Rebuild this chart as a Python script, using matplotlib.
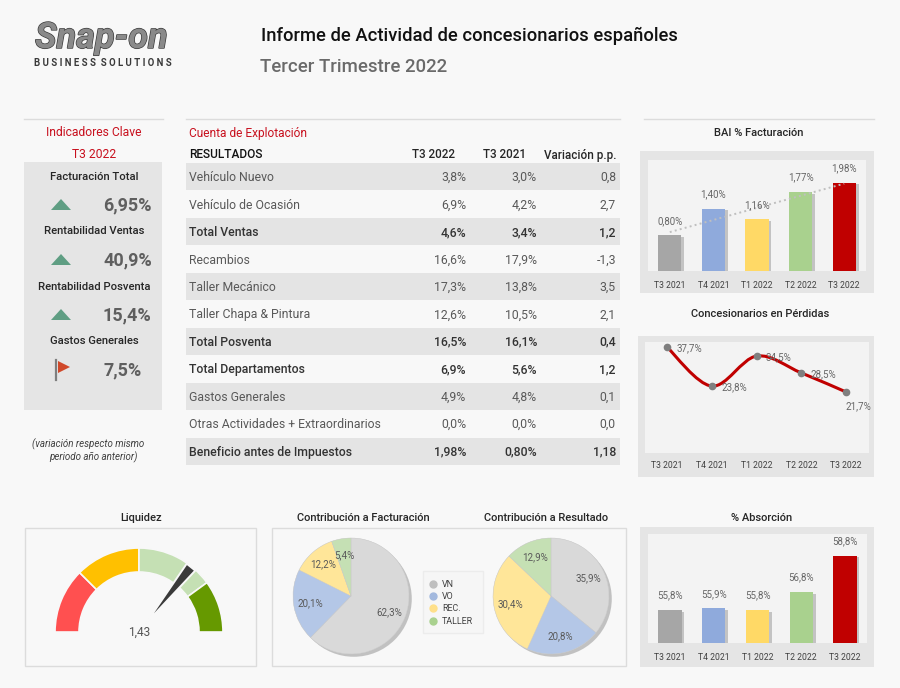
import matplotlib
matplotlib.use('Agg')
import matplotlib.pyplot as plt
import matplotlib.patheffects as pe
from matplotlib.patches import Rectangle, Circle, Polygon, PathPatch
from matplotlib.path import Path
from matplotlib.lines import Line2D
import numpy as np

plt.rcParams['font.family'] = ['Roboto', 'DejaVu Sans']

quarters = ['T3 2021', 'T4 2021', 'T1 2022', 'T2 2022', 'T3 2022']
bai = [0.80, 1.40, 1.16, 1.77, 1.98]
perdidas = [37.7, 23.8, 34.5, 28.5, 21.7]
absorcion = [55.8, 55.9, 55.8, 56.8, 58.8]
bar_colors = ['#a6a6a6', '#8faadc', '#ffd966', '#a9d18e', '#c00000']

row_names = ['Vehículo Nuevo', 'Vehículo de Ocasión', 'Total Ventas', 'Recambios', 'Taller Mecánico',
             'Taller Chapa & Pintura', 'Total Posventa', 'Total Departamentos', 'Gastos Generales',
             'Otras Actividades + Extraordinarios', 'Beneficio antes de Impuestos']
col_2022 = ['3,8%', '6,9%', '4,6%', '16,6%', '17,3%', '12,6%', '16,5%', '6,9%', '4,9%', '0,0%', '1,98%']
col_2021 = ['3,0%', '4,2%', '3,4%', '17,9%', '13,8%', '10,5%', '16,1%', '5,6%', '4,8%', '0,0%', '0,80%']
col_var = ['0,8', '2,7', '1,2', '-1,3', '3,5', '2,1', '0,4', '1,2', '0,1', '0,0', '1,18']
bold_rows = ['Total Ventas', 'Total Posventa', 'Total Departamentos', 'Beneficio antes de Impuestos']

kpi_names = ['Facturación Total', 'Rentabilidad Ventas', 'Rentabilidad Posventa', 'Gastos Generales']
kpi_values = ['6,95%', '40,9%', '15,4%', '7,5%']
kpi_icons = ['up', 'up', 'up', 'flag']

pie_labels = ['VN', 'VO', 'REC.', 'TALLER']
pie_fact = [62.3, 20.1, 12.2, 5.4]
pie_res = [35.9, 20.8, 30.4, 12.9]
pie_colors = ['#d9d9d9', '#b4c7e7', '#ffe699', '#c5e0b4']
legend_colors = ['#bfbfbf', '#a3b9de', '#ffe08a', '#a9d18e']

gauge_value = 1.43
gauge_segments = [0.5, 0.5, 0.6, 0.4]
gauge_colors = ['#ff5050', '#ffc000', '#c5e0b4', '#669900']

BG = '#f8f8f8'
PANEL = '#e5e5e5'
INNER = '#f3f3f3'
DARK = '#262626'
GREY = '#595959'
RED = '#c8101e'
MED = 500

fig = plt.figure(figsize=(9, 6.88), dpi=100, facecolor=BG)
bg = fig.add_axes([0, 0, 1, 1], zorder=0)
bg.set_xlim(0, 900)
bg.set_ylim(688, 0)
bg.axis('off')


def box(x0, y0, x1, y1, **kw):
    bg.add_patch(Rectangle((x0, y0), x1 - x0, y1 - y0, **kw))


def T(x, y, s, size=8.6, color=GREY, ha='left', weight='normal', **kw):
    bg.text(x, y + 1, s, fontsize=size, color=color, ha=ha, va='center', fontweight=weight, **kw)


def sub(x0, y0, x1, y1, **kw):
    a = fig.add_axes([x0 / 900, 1 - y1 / 688, (x1 - x0) / 900, (y1 - y0) / 688], zorder=2, **kw)
    return a


# ---- header
T(35, 37, 'Snap-on', size=26, color='#8a8a8a', weight='bold', style='italic',
  path_effects=[pe.withStroke(linewidth=1.0, foreground='#3a3a3a')])
T(34, 62, 'B U S I N E S S  S O L U T I O N S', size=6.9, color='#3a3a3a', weight='bold')
T(261, 35, 'Informe de Actividad de concesionarios españoles', size=13.2, color='#111111', weight=MED)
T(260, 66, 'Tercer Trimestre 2022', size=13.4, color='#6a6a6a', weight=MED)

for x0, x1 in [(24, 163), (186, 620), (644, 874)]:
    bg.plot([x0, x1], [119, 119], color='#dcdcdc', lw=1)

# ---- KPI column
T(94, 132, 'Indicadores Clave', size=8.7, color=RED, ha='center')
T(94, 154, 'T3 2022', size=8.7, color=RED, ha='center')
box(24, 162, 162, 410, color=PANEL, lw=0)
for i, (n, v, ic) in enumerate(zip(kpi_names, kpi_values, kpi_icons)):
    yl = 175.5 + 55 * i
    yv = 204 + 55 * i
    T(94, yl, n, size=8.1, color=DARK, ha='center', weight=MED)
    T(103, yv, v, size=13, color='#5f5f5f', weight='bold')
    yi = 205 + 55 * i
    if ic == 'up':
        bg.add_patch(Polygon([[51, yi + 5], [71, yi + 5], [61, yi - 6]], closed=True, color='#5f9e83', lw=0))
    else:
        bg.plot([56, 56], [yi - 10, yi + 10], color='#7f7f7f', lw=1.6)
        bg.add_patch(Polygon([[58, yi - 9], [70, yi - 3], [58, yi + 3]], closed=True, color='#d0492a', lw=0))
T(88, 443, '(variación respecto mismo', size=7.0, color='#404040', ha='center', style='italic')
T(93, 456, 'periodo año anterior)', size=7.0, color='#404040', ha='center', style='italic')

# ---- table
T(189, 132, 'Cuenta de Explotación', size=8.6, color=RED)
T(189, 154, 'RESULTADOS', size=8.6, color='#111111', weight=MED)
T(455, 154, 'T3 2022', size=8.4, color=DARK, ha='right', weight=MED)
T(526, 154, 'T3 2021', size=8.4, color=DARK, ha='right', weight=MED)
T(617, 154, 'Variación p.p.', size=8.4, color=DARK, ha='right', weight=MED)
for i, name in enumerate(row_names):
    y0 = 163 + 27.45 * i
    yc = y0 + 13.7
    if i % 2 == 0:
        box(186, y0, 620, y0 + 27.45, color='#e4e4e4', lw=0)
    b = name in bold_rows
    c = '#333333' if b else GREY
    w = MED if b else 'normal'
    T(189, yc, name, size=8.8, color=c, weight=w)
    T(466, yc, col_2022[i], size=8.8, color=c, ha='right', weight=w)
    T(537, yc, col_2021[i], size=8.8, color=c, ha='right', weight=w)
    T(616, yc, col_var[i], size=8.8, color=c, ha='right', weight=w)


# ---- bar charts
def bars(axbox, values, labels, ylim, tick_y, trend=False):
    ax = sub(*axbox, facecolor=INNER)
    x = np.arange(len(values))
    rects = ax.bar(x, values, width=0.53, color=bar_colors, zorder=2)
    for r in rects:
        r.set_path_effects([pe.SimplePatchShadow(offset=(2, -1), shadow_rgbFace='#8a8a8a', alpha=0.45),
                            pe.Normal()])
    if trend:
        k, c = np.polyfit(x, values, 1)
        ax.plot(x, k * x + c, ls=':', color='#bfbfbf', lw=1.4, zorder=3)
    for xi, v, l in zip(x, values, labels):
        ax.annotate(l, (xi, v), xytext=(0, 7), textcoords='offset points', ha='center', va='bottom',
                    fontsize=7.0, color='#666666', zorder=4)
    ax.set_xlim(-0.5, len(values) - 0.5)
    ax.set_ylim(*ylim)
    ax.set_yticks([])
    ax.set_xticks(x, quarters)
    ax.tick_params(axis='x', length=0, pad=tick_y, labelsize=6.2, labelcolor='#404040')
    for s in ax.spines.values():
        s.set_visible(False)
    return ax


T(759, 132, 'BAI % Facturación', size=8.0, color=DARK, ha='center', weight=MED)
box(640, 151, 874, 293, color=PANEL, lw=0)
bars((648, 160, 866, 271), bai, [f'{v:.2f}%'.replace('.', ',') for v in bai], (0, 2.5), 7, trend=True)

T(760, 313, 'Concesionarios en Pérdidas', size=8.0, color=DARK, ha='center', weight=MED)
box(638, 336, 874, 477, color=PANEL, lw=0)
ax = sub(645, 342, 869, 453, facecolor=INNER)
xl = np.arange(len(perdidas))
yl = np.array(perdidas)
verts = [(xl[0], yl[0])]
codes = [Path.MOVETO]
for i in range(len(xl) - 1):
    p0 = np.array([xl[max(i - 1, 0)], yl[max(i - 1, 0)]])
    p1 = np.array([xl[i], yl[i]])
    p2 = np.array([xl[i + 1], yl[i + 1]])
    p3 = np.array([xl[min(i + 2, len(xl) - 1)], yl[min(i + 2, len(xl) - 1)]])
    verts += [tuple(p1 + (p2 - p0) / 6), tuple(p2 - (p3 - p1) / 6), tuple(p2)]
    codes += [Path.CURVE4] * 3
ax.add_patch(PathPatch(Path(verts, codes), fc='none', ec='#c00000', lw=2.2, zorder=2))
ax.plot(xl, yl, ls='', marker='o', ms=4.5, color='#7f7f7f', zorder=3)
offs = [(16, -1), (16, -1), (16, -1), (16, -1), (9, -10)]
for xi, v, o in zip(xl, perdidas, offs):
    ax.annotate(f'{v:.1f}%'.replace('.', ','), (xi, v), xytext=o, textcoords='offset points',
                ha='center', va='center', fontsize=7.0, color='#666666', zorder=4)
ax.set_xlim(-0.49, 4.51)
ax.set_ylim(0, 39.5)
ax.set_yticks([])
ax.set_xticks(xl, quarters)
ax.tick_params(axis='x', length=0, pad=6, labelsize=6.2, labelcolor='#404040')
for s in ax.spines.values():
    s.set_visible(False)

T(762, 517, '% Absorción', size=8.0, color=DARK, ha='center', weight=MED)
box(640, 527, 874, 667, color=PANEL, lw=0)
bars((648, 534, 867, 643), absorcion, [f'{v:.1f}%'.replace('.', ',') for v in absorcion], (54, 60), 7)

# ---- gauge
T(141, 517, 'Liquidez', size=8.0, color=DARK, ha='center', weight=MED)
box(25, 528, 256, 666, fc='none', ec='#dcdcdc', lw=1)
R = 84
ax = sub(139 - R - 2, 632 - R - 2, 139 + R + 2, 632 + R + 2)
ax.set_facecolor('none')
total = sum(gauge_segments)
wedges, _ = ax.pie(gauge_segments + [total], colors=gauge_colors + ['none'], startangle=180,
                   counterclock=False, radius=1,
                   wedgeprops=dict(width=24 / 84, edgecolor=BG, linewidth=1.2))
wedges[-1].set_visible(False)
ang = np.pi * (1 - gauge_value / total)
d = np.array([np.cos(ang), np.sin(ang)])
n = np.array([-d[1], d[0]])
needle = [d * 0.13, d * 0.99 + n * 0.065, d * 0.99 - n * 0.065]
ax.add_patch(Polygon(needle, closed=True, fc='#3a3a3a', ec=BG, lw=1.4, zorder=5))
ax.set_xlim(-1.024, 1.024)
ax.set_ylim(-1.024, 1.024)
ax.set_aspect('equal')
T(139, 631, f'{gauge_value}'.replace('.', ','), size=8.6, color='#555555', ha='center')

# ---- pies
T(363, 517, 'Contribución a Facturación', size=8.0, color=DARK, ha='center', weight=MED)
T(546, 517, 'Contribución a Resultado', size=8.0, color=DARK, ha='center', weight=MED)
box(272, 528, 626, 666, fc='none', ec='#dcdcdc', lw=1)
for cx, vals in [(351, pie_fact), (551, pie_res)]:
    r = 58
    ax = sub(cx - r - 4, 596 - r - 4, cx + r + 4, 596 + r + 4)
    ax.set_facecolor('none')
    ax.add_patch(Circle((0, 0), 1, fc='#d9d9d9', lw=0, zorder=0,
                        path_effects=[pe.SimplePatchShadow(offset=(2, -2), shadow_rgbFace='#808080', alpha=0.45),
                                      pe.Normal()]))
    ax.pie(vals, colors=pie_colors, startangle=90, counterclock=False, radius=1, pctdistance=0.72,
           autopct=lambda p: f'{p:.1f}%'.replace('.', ','),
           textprops=dict(fontsize=7.0, color='#595959'),
           wedgeprops=dict(edgecolor='#c8c8c8', linewidth=0.3))
    ax.set_xlim(-62 / 58, 62 / 58)
    ax.set_ylim(-62 / 58, 62 / 58)
    ax.set_aspect('equal')

box(423, 571, 483, 633, fc='#f6f6f6', ec='#ececec', lw=1)
for i, (l, c) in enumerate(zip(pie_labels, legend_colors)):
    y = 584 + 12.2 * i
    bg.add_line(Line2D([433], [y], marker='o', ms=5, color=c, ls=''))
    T(442, y - 0.5, l, size=6.4, color='#404040')

fig.savefig('out.png', dpi=100, facecolor=BG)
